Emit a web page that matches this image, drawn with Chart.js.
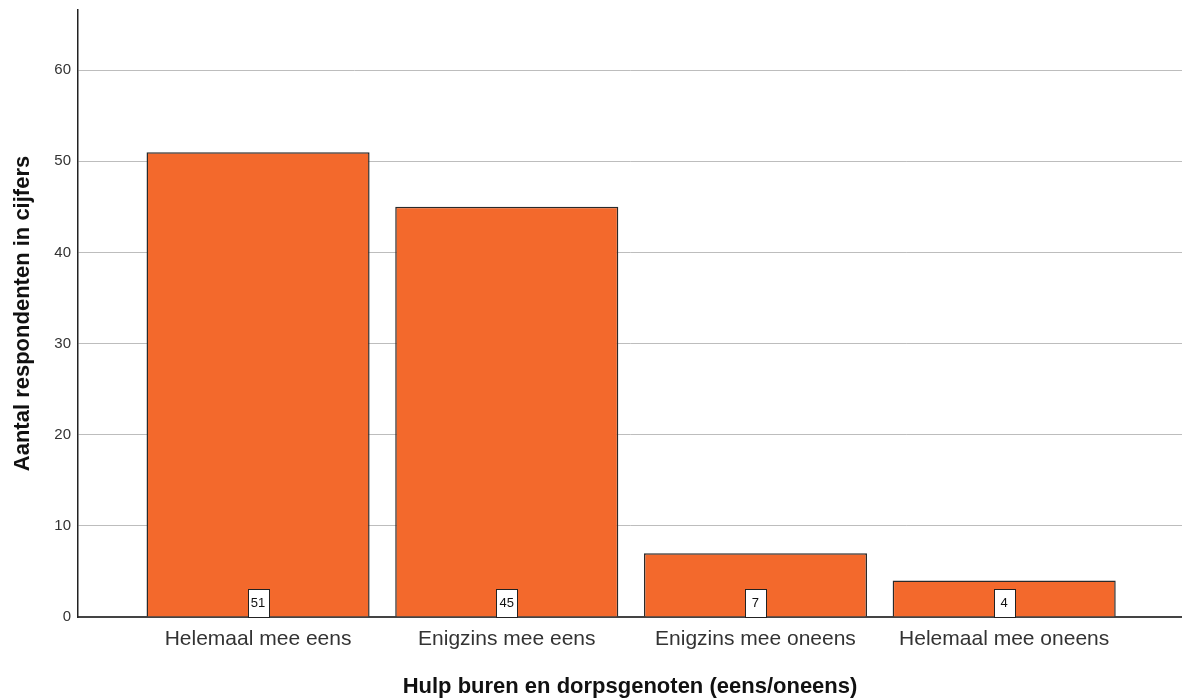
<!DOCTYPE html>
<html>
<head>
<meta charset="utf-8">
<script src="https://cdn.jsdelivr.net/npm/chart.js@4.4.1/dist/chart.umd.min.js"></script>
<style>
  html, body { margin: 0; padding: 0; background: #fff; }
  #wrap { width: 1182px; height: 700px; position: relative; }
</style>
</head>
<body>
<div id="wrap"><canvas id="myChart"></canvas></div>
<script>
const categories = ["Helemaal mee eens", "Enigzins mee eens", "Enigzins mee oneens", "Helemaal mee oneens"];
const counts = [51, 45, 7, 4];
const yTicks = [0, 10, 20, 30, 40, 50, 60];
const xTitle = "Hulp buren en dorpsgenoten (eens/oneens)";
const yTitle = "Aantal respondenten in cijfers";

const FONT = "Arial, 'Liberation Sans', sans-serif";

// white boxes with the count, sitting on the base of each bar
const valueBoxes = {
    id: 'valueBoxes',
    afterDatasetsDraw(chart) {
        const ctx = chart.ctx;
        const meta = chart.getDatasetMeta(0);
        ctx.save();
        ctx.font = "13px " + FONT;
        ctx.textAlign = 'center';
        ctx.textBaseline = 'middle';
        meta.data.forEach((bar, i) => {
            const w = 21, h = 28;
            const x = Math.round(bar.x - w / 2) + 0.5;
            const y = Math.round(bar.base - h) + 0.5;
            ctx.fillStyle = '#fff';
            ctx.fillRect(x, y, w, h);
            ctx.strokeStyle = '#222';
            ctx.lineWidth = 1;
            ctx.strokeRect(x, y, w, h);
            ctx.fillStyle = '#111';
            ctx.fillText(String(counts[i]), bar.x, bar.base - h / 2 + 1);
        });
        ctx.restore();
    }
};

const gConfig = {
    type: 'bar',
    data: {
        datasets: [{
            data: counts.map((v, i) => ({x: i, y: v})),
            backgroundColor: '#F3692C',
            borderColor: '#2a2a2a',
            borderWidth: 1.5,
            barPercentage: 0.897,
            categoryPercentage: 1.0
        }]
    },
    options: {
        responsive: true,
        maintainAspectRatio: false,
        animation: false,
        layout: { padding: { top: 10, right: 0, left: 0, bottom: 0 } },
        plugins: {
            legend: { display: false },
            tooltip: { enabled: false }
        },
        scales: {
            x: {
                type: 'linear',
                offset: false,
                min: -0.724,
                max: 3.715,
                afterFit: (s) => { s.height = 83; s.paddingLeft = 0; s.paddingRight = 0; },
                afterBuildTicks: (s) => { s.ticks = categories.map((c, i) => ({value: i})); },
                grid: { display: false, drawTicks: false, offset: false },
                border: { display: true, color: '#444', width: 2 },
                ticks: {
                    includeBounds: false,
                    autoSkip: false,
                    maxRotation: 0,
                    padding: 10,
                    color: '#333',
                    font: { family: FONT, size: 21 },
                    callback: (v) => categories[v]
                },
                title: {
                    display: true,
                    text: xTitle,
                    color: '#111',
                    font: { family: FONT, size: 22, weight: 'bold' },
                    padding: { top: 0, bottom: 0 }
                }
            },
            y: {
                min: 0,
                max: 66.6,
                afterFit: (s) => { s.width = 78; s.paddingTop = 0; s.paddingBottom = 0; },
                afterBuildTicks: (s) => { s.ticks = yTicks.map(v => ({value: v})); },
                grid: { color: '#bdbdbd', lineWidth: 1, drawTicks: false },
                border: { display: true, color: '#222', width: 1.5 },
                ticks: {
                    includeBounds: false,
                    padding: 7,
                    color: '#333',
                    font: { family: FONT, size: 15 }
                },
                title: {
                    display: true,
                    text: yTitle,
                    color: '#111',
                    font: { family: FONT, size: 22, weight: 'bold' },
                    padding: { top: 10, bottom: 0 }
                }
            }
        }
    },
    plugins: [valueBoxes]
};

const gChart = new Chart(document.getElementById('myChart'), gConfig);
</script>
</body>
</html>
